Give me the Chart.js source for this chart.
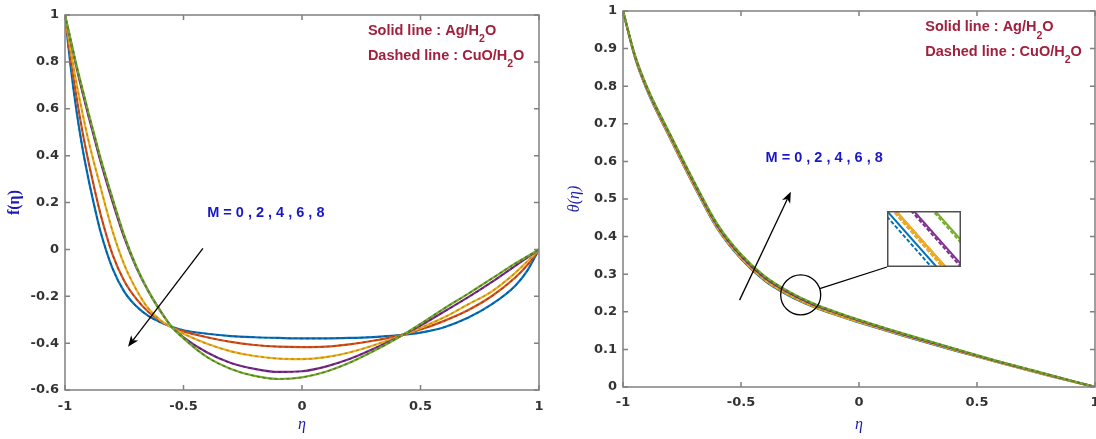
<!DOCTYPE html>
<html>
<head>
<meta charset="utf-8">
<title>Velocity and temperature profiles</title>
<script src="https://cdn.jsdelivr.net/npm/chart.js@4.4.0/dist/chart.umd.min.js"></script>
<style>
  html, body { margin: 0; padding: 0; background: #fff; overflow: hidden; }
  body { width: 1096px; height: 439px; position: relative; }
  canvas { position: absolute; top: 0; }
  #velocity { left: 0; }
  #temperature { left: 556px; }
</style>
</head>
<body>
<canvas id="velocity" width="552" height="439"></canvas>
<canvas id="temperature" width="560" height="439"></canvas>
<canvas id="inset" width="74" height="56"></canvas>
<script>
// magnetic parameter values, one curve each
const mValues = [0, 2, 4, 6, 8];
const lineColors = ["#0072BD", "#D95319", "#EDB120", "#7E2F8E", "#77AC30"];
const dashColors = ["#0b5a94", "#a8401a", "#c08c10", "#5c1f6a", "#4f7d1c"];

// f(eta), Ag/H2O (CuO/H2O runs on top of it)
const etaF = [-1, -0.975, -0.95, -0.925, -0.9, -0.875, -0.85, -0.8, -0.75, -0.7, -0.65, -0.6, -0.55, -0.5,
  -0.4, -0.3, -0.2, -0.1, 0, 0.1, 0.2, 0.3, 0.4, 0.5, 0.6, 0.7, 0.8, 0.9, 0.95, 1];
const fM0 = [1, 0.77, 0.58, 0.425, 0.295, 0.18, 0.075, -0.08, -0.18, -0.242, -0.283, -0.31, -0.33, -0.345,
  -0.36, -0.37, -0.375, -0.378, -0.38, -0.38, -0.378, -0.374, -0.367, -0.355, -0.332, -0.292, -0.235, -0.155, -0.092, 0];
const fM2 = [1, 0.81, 0.64, 0.495, 0.37, 0.255, 0.15, -0.02, -0.135, -0.21, -0.265, -0.303, -0.332, -0.35,
  -0.375, -0.395, -0.408, -0.415, -0.417, -0.415, -0.405, -0.39, -0.37, -0.342, -0.305, -0.26, -0.2, -0.12, -0.068, 0];
const fM4 = [1, 0.845, 0.70, 0.575, 0.46, 0.36, 0.265, 0.08, -0.065, -0.17, -0.25, -0.30, -0.333, -0.36,
  -0.403, -0.435, -0.455, -0.466, -0.468, -0.46, -0.44, -0.41, -0.375, -0.335, -0.29, -0.235, -0.18, -0.10, -0.052, 0];
const fM6 = [1, 0.885, 0.77, 0.665, 0.565, 0.47, 0.375, 0.205, 0.05, -0.075, -0.175, -0.258, -0.33, -0.375,
  -0.44, -0.485, -0.51, -0.523, -0.52, -0.5, -0.468, -0.425, -0.378, -0.325, -0.265, -0.205, -0.14, -0.07, -0.035, 0];
const fM8 = [1, 0.89, 0.78, 0.68, 0.58, 0.485, 0.39, 0.22, 0.06, -0.07, -0.175, -0.26, -0.33, -0.38,
  -0.46, -0.51, -0.54, -0.553, -0.546, -0.522, -0.484, -0.435, -0.38, -0.318, -0.252, -0.19, -0.125, -0.06, -0.03, 0];

// theta(eta)
const etaTheta = [-1, -0.95, -0.9, -0.8, -0.7, -0.6, -0.5, -0.4, -0.3, -0.2, -0.1, 0, 0.2, 0.4, 0.6, 0.8, 1];
const thetaM0 = [1, 0.878, 0.792, 0.661, 0.536, 0.421, 0.341, 0.283, 0.244, 0.215, 0.192, 0.172, 0.134, 0.098, 0.064, 0.031, 0];
const thetaM2 = [1, 0.88, 0.795, 0.665, 0.54, 0.425, 0.345, 0.287, 0.248, 0.218, 0.195, 0.174, 0.136, 0.1, 0.065, 0.032, 0];
const thetaM4 = [1, 0.879, 0.794, 0.663, 0.538, 0.423, 0.343, 0.285, 0.246, 0.216, 0.193, 0.173, 0.135, 0.099, 0.064, 0.031, 0];
const thetaM6 = [1, 0.882, 0.798, 0.669, 0.544, 0.429, 0.349, 0.291, 0.252, 0.221, 0.198, 0.177, 0.138, 0.102, 0.066, 0.033, 0];
const thetaM8 = [1, 0.884, 0.801, 0.672, 0.548, 0.433, 0.353, 0.295, 0.255, 0.224, 0.2, 0.179, 0.14, 0.103, 0.067, 0.034, 0];

// magnified view: line heights at the left and right edge of the inset box
const insetSolidLeft = [1, 1.18, 1.18, 1.54, 1.97];
const insetSolidRight = [-0.49, -0.31, -0.31, 0.05, 0.48];
const insetDashedLeft = [0.9, 1.13, 1.13, 1.49, 1.93];
const insetDashedRight = [-0.6, -0.37, -0.37, 0, 0.43];

const etaTicks = [-1, -0.5, 0, 0.5, 1];
const fTicks = [-0.6, -0.4, -0.2, 0, 0.2, 0.4, 0.6, 0.8, 1];
const thetaTicks = [0, 0.1, 0.2, 0.3, 0.4, 0.5, 0.6, 0.7, 0.8, 0.9, 1];

const insetBox = { left: 887, top: 211, width: 74, height: 56 };
const tempCanvasLeft = 556;

const tickFont = { family: "'DejaVu Sans', sans-serif", weight: "bold", size: 13 };
const noteRed = "#A0203E";
const noteBlue = "#1818C8";
const axisBlue = "#1c1cb0";

function drawNote(ctx, px, py, parts, color, size) {
  ctx.fillStyle = color;
  ctx.textAlign = "left";
  ctx.textBaseline = "middle";
  let cx = px;
  parts.forEach(([txt, sub]) => {
    ctx.font = "bold " + (sub ? 10.5 : size) + "px 'Liberation Sans', Arial, sans-serif";
    ctx.fillText(txt, cx, sub ? py + 8.5 : py);
    cx += ctx.measureText(txt).width;
  });
}

function drawArrow(ctx, x1, y1, x2, y2) {
  const ang = Math.atan2(y2 - y1, x2 - x1);
  const len = 11, half = 4.5;
  const bx = x2 - len * Math.cos(ang), by = y2 - len * Math.sin(ang);
  ctx.beginPath();
  ctx.moveTo(x1, y1);
  ctx.lineTo(bx + 3 * Math.cos(ang), by + 3 * Math.sin(ang));
  ctx.stroke();
  ctx.beginPath();
  ctx.moveTo(x2, y2);
  ctx.lineTo(bx + half * Math.sin(ang), by - half * Math.cos(ang));
  ctx.lineTo(bx + 3 * Math.cos(ang), by + 3 * Math.sin(ang));
  ctx.lineTo(bx - half * Math.sin(ang), by + half * Math.cos(ang));
  ctx.closePath();
  ctx.fill();
}

// box, inward ticks, labels, arrow and magnifier
const panelDecor = {
  id: "panelDecor",
  afterDraw(chart, args, opts) {
    const { ctx, chartArea: a, scales: { x, y } } = chart;
    ctx.save();
    ctx.strokeStyle = "#808080";
    ctx.lineWidth = 1.5;
    ctx.strokeRect(a.left, a.top, a.right - a.left, a.bottom - a.top);
    ctx.beginPath();
    x.ticks.forEach(t => {
      const px = x.getPixelForValue(t.value);
      ctx.moveTo(px, a.bottom); ctx.lineTo(px, a.bottom - 5);
      ctx.moveTo(px, a.top); ctx.lineTo(px, a.top + 5);
    });
    y.ticks.forEach(t => {
      const py = y.getPixelForValue(t.value);
      ctx.moveTo(a.left, py); ctx.lineTo(a.left + 5, py);
      ctx.moveTo(a.right, py); ctx.lineTo(a.right - 5, py);
    });
    ctx.stroke();

    opts.notes.forEach(n => drawNote(ctx, x.getPixelForValue(n.x), y.getPixelForValue(n.y), n.parts, n.color, n.size));

    ctx.strokeStyle = "#000";
    ctx.fillStyle = "#000";
    ctx.lineWidth = 1.3;
    const ar = opts.arrow;
    drawArrow(ctx, x.getPixelForValue(ar[0]), y.getPixelForValue(ar[1]), x.getPixelForValue(ar[2]), y.getPixelForValue(ar[3]));

    if (opts.lens) {
      const cx = x.getPixelForValue(opts.lens.x), cy = y.getPixelForValue(opts.lens.y);
      const r = opts.lens.r;
      ctx.beginPath();
      ctx.arc(cx, cy, r, 0, Math.PI * 2);
      ctx.stroke();
      const tx = insetBox.left - tempCanvasLeft, ty = insetBox.top + insetBox.height;
      const ang = Math.atan2(ty - cy, tx - cx);
      ctx.beginPath();
      ctx.moveTo(cx + r * Math.cos(ang), cy + r * Math.sin(ang));
      ctx.lineTo(tx, ty);
      ctx.stroke();
    }
    ctx.restore();
  }
};

function buildSets(eta, series) {
  const sets = [];
  series.forEach((vals, i) => {
    const pts = eta.map((e, k) => ({ x: e, y: vals[k] }));
    sets.push({
      label: "Ag/H2O, M = " + mValues[i], data: pts, borderColor: lineColors[i], borderWidth: 2.2,
      pointRadius: 0, cubicInterpolationMode: "monotone", order: 2 * (4 - i) + 1
    });
    sets.push({
      label: "CuO/H2O, M = " + mValues[i], data: pts, borderColor: dashColors[i], borderWidth: 1.4,
      borderDash: [3, 3], pointRadius: 0, cubicInterpolationMode: "monotone", order: 2 * (4 - i)
    });
  });
  return sets;
}

function profileOptions(p) {
  return {
    responsive: false,
    animation: false,
    devicePixelRatio: 1,
    events: [],
    layout: { padding: p.padding },
    plugins: { legend: { display: false }, tooltip: { enabled: false }, panelDecor: p.decor },
    scales: {
      x: {
        type: "linear", min: -1, max: 1,
        afterBuildTicks: s => { s.ticks = etaTicks.map(v => ({ value: v })); },
        afterFit: s => { s.height = p.xHeight; s.paddingLeft = 0; s.paddingRight = 0; },
        grid: { display: false, drawTicks: false },
        border: { display: false },
        ticks: { padding: p.xPad, color: "#333", font: tickFont, maxRotation: 0, callback: v => String(v) },
        title: {
          display: true, text: "η", color: axisBlue,
          font: { family: "'Liberation Serif', serif", style: "italic", size: 16 },
          padding: { top: 0, bottom: 5 }
        }
      },
      y: {
        type: "linear", min: p.yMin, max: p.yMax,
        afterBuildTicks: s => { s.ticks = p.yTicks.map(v => ({ value: v })); },
        afterFit: s => { s.width = p.yWidth; s.paddingTop = 0; s.paddingBottom = 0; },
        grid: { display: false, drawTicks: false },
        border: { display: false },
        ticks: { padding: 6, color: "#333", font: tickFont, callback: v => String(v) },
        title: {
          display: true, text: p.yTitle, color: axisBlue, font: p.yTitleFont,
          padding: { top: p.yTitlePad, bottom: 0 }
        }
      }
    }
  };
}

const solidParts = [["Solid line : Ag/H", false], ["2", true], ["O", false]];
const dashedParts = [["Dashed line : CuO/H", false], ["2", true], ["O", false]];
const mParts = [["M = 0 , 2 , 4 , 6 , 8", false]];

new Chart(document.getElementById("velocity"), {
  type: "line",
  data: { datasets: buildSets(etaF, [fM0, fM2, fM4, fM6, fM8]) },
  options: profileOptions({
    padding: { left: 0, top: 15, right: 13, bottom: 0 },
    xHeight: 49, xPad: 9, yWidth: 65, yMin: -0.6, yMax: 1, yTicks: fTicks,
    yTitle: "f(η)", yTitlePad: 5,
    yTitleFont: { family: "'Liberation Serif', serif", weight: "bold", size: 16 },
    decor: {
      notes: [
        { x: 0.278, y: 0.932, parts: solidParts, color: noteRed, size: 14.5 },
        { x: 0.278, y: 0.825, parts: dashedParts, color: noteRed, size: 14.5 },
        { x: -0.4, y: 0.154, parts: mParts, color: noteBlue, size: 14.5 }
      ],
      arrow: [-0.418, 0.004, -0.734, -0.415]
    }
  }),
  plugins: [panelDecor]
});

new Chart(document.getElementById("temperature"), {
  type: "line",
  data: { datasets: buildSets(etaTheta, [thetaM0, thetaM2, thetaM4, thetaM6, thetaM8]) },
  options: profileOptions({
    padding: { left: 0, top: 11, right: 21, bottom: 0 },
    xHeight: 52, xPad: 8, yWidth: 67, yMin: 0, yMax: 1, yTicks: thetaTicks,
    yTitle: "θ(η)", yTitlePad: 9,
    yTitleFont: { family: "'Liberation Serif', serif", style: "italic", size: 16 },
    decor: {
      notes: [
        { x: 0.281, y: 0.957, parts: solidParts, color: noteRed, size: 14.5 },
        { x: 0.281, y: 0.891, parts: dashedParts, color: noteRed, size: 14.5 },
        { x: -0.396, y: 0.609, parts: mParts, color: noteBlue, size: 14.5 }
      ],
      arrow: [-0.506, 0.231, -0.289, 0.519],
      lens: { x: -0.247, y: 0.245, r: 20 }
    }
  }),
  plugins: [panelDecor]
});

// magnified view of the theta curves
const insetCanvas = document.getElementById("inset");
insetCanvas.style.left = insetBox.left + "px";
insetCanvas.style.top = insetBox.top + "px";

const insetSets = [];
mValues.forEach((m, i) => {
  insetSets.push({
    label: "Ag/H2O, M = " + m, data: [{ x: 0, y: insetSolidLeft[i] }, { x: 1, y: insetSolidRight[i] }],
    borderColor: lineColors[i], borderWidth: 2, pointRadius: 0, order: 2 * (4 - i) + 1
  });
  insetSets.push({
    label: "CuO/H2O, M = " + m, data: [{ x: 0, y: insetDashedLeft[i] }, { x: 1, y: insetDashedRight[i] }],
    borderColor: lineColors[i], borderWidth: 2, borderDash: [4, 2], pointRadius: 0, order: 2 * (4 - i)
  });
});

new Chart(insetCanvas, {
  type: "line",
  data: { datasets: insetSets },
  options: {
    responsive: false,
    animation: false,
    devicePixelRatio: 1,
    events: [],
    layout: { padding: 0 },
    plugins: { legend: { display: false }, tooltip: { enabled: false } },
    scales: {
      x: { type: "linear", min: 0, max: 1, display: false },
      y: { type: "linear", min: 0, max: 1, display: false }
    }
  },
  plugins: [{
    id: "insetFrame",
    afterDraw(chart) {
      const { ctx, chartArea: a } = chart;
      ctx.save();
      ctx.strokeStyle = "#505050";
      ctx.lineWidth = 1.5;
      ctx.strokeRect(a.left + 0.75, a.top + 0.75, a.right - a.left - 1.5, a.bottom - a.top - 1.5);
      ctx.restore();
    }
  }]
});
</script>
</body>
</html>
